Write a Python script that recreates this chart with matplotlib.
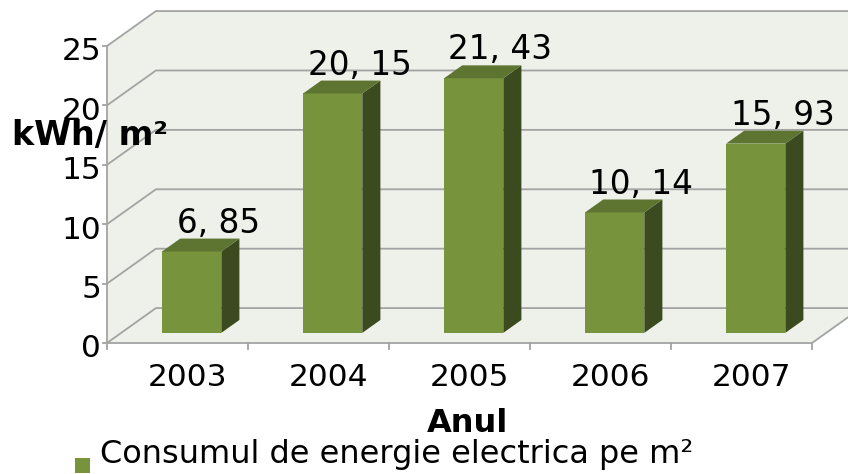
import numpy as np
import matplotlib
matplotlib.use("Agg")
import matplotlib.pyplot as plt
from matplotlib.patches import Polygon

years = ["2003", "2004", "2005", "2006", "2007"]
values = [6.85, 20.15, 21.43, 10.14, 15.93]
labels = ["6, 85", "20, 15", "21, 43", "10, 14", "15, 93"]
y_ticks = [0, 5, 10, 15, 20, 25]

# oblique depth (full depth of the floor) in data units
DX, DY = 0.347, 2.94
BAR_D0, BAR_D1 = 0.29, 0.66
BAR_W = 0.42

wall = "#EEF1EA"
grid = "#A3A3A3"
front = "#77933C"
side = "#3C4A1F"
top = "#5E7431"

W, H = 848, 474
fig = plt.figure(figsize=(W / 100, H / 100), dpi=100)

xlim = (-0.05, 5.26)
ylim = (-0.2, 28.4)
px_x = 141.0
px_y = 11.88
left = 107 - (0 - xlim[0]) * px_x
bottom_px = 343 + (0 - ylim[0]) * px_y
ax = fig.add_axes([left / W, (H - bottom_px) / H,
                   (xlim[1] - xlim[0]) * px_x / W,
                   (ylim[1] - ylim[0]) * px_y / H])
ax.set_xlim(*xlim)
ax.set_ylim(*ylim)
ax.axis("off")

ymax = y_ticks[-1]
n = len(years)

# walls and floor
ax.add_patch(Polygon([(DX, DY), (n + DX, DY), (n + DX, ymax + DY), (DX, ymax + DY)],
                     closed=True, fc=wall, ec="none", zorder=0))
ax.add_patch(Polygon([(0, 0), (DX, DY), (DX, ymax + DY), (0, ymax)],
                     closed=True, fc=wall, ec="none", zorder=0))
ax.add_patch(Polygon([(0, 0), (n, 0), (n + DX, DY), (DX, DY)],
                     closed=True, fc=wall, ec="none", zorder=0))

# gridlines
for v in y_ticks:
    ax.plot([0, DX, n + DX], [v, v + DY, v + DY], color=grid, lw=1.3, zorder=1)
    ax.plot([-0.03, 0], [v, v], color=grid, lw=1.3, zorder=1, clip_on=False)
    ax.text(-0.04, v - 0.5, str(v), ha="right", va="center", fontsize=22.5)
ax.plot([0, 0], [0, ymax], color=grid, lw=1.3, zorder=1)
ax.plot([0, n, n + DX], [0, 0, DY], color=grid, lw=1.3, zorder=1)
for i in range(n + 1):
    ax.plot([i, i], [0, -0.5], color=grid, lw=1.3, zorder=1, clip_on=False)

# bars
centers = np.arange(n) + 0.5 + BAR_D0 * DX
base = BAR_D0 * DY
ddx = (BAR_D1 - BAR_D0) * DX
ddy = (BAR_D1 - BAR_D0) * DY
ax.bar(centers, values, bottom=base, width=BAR_W, color=front, zorder=3)
for c, v, lab in zip(centers, values, labels):
    x0, x1 = c - BAR_W / 2, c + BAR_W / 2
    yt = base + v
    ax.add_patch(Polygon([(x1, base), (x1 + ddx, base + ddy), (x1 + ddx, yt + ddy), (x1, yt)],
                         closed=True, fc=side, ec="none", zorder=3))
    ax.add_patch(Polygon([(x0, yt), (x1, yt), (x1 + ddx, yt + ddy), (x0 + ddx, yt + ddy)],
                         closed=True, fc=top, ec="none", zorder=3))
    ax.text(c + 0.19, yt + ddy + 0.5, lab, ha="center", va="baseline", fontsize=23.5, zorder=4)

# category labels
for i, yr in enumerate(years):
    ax.text(i + 0.57, -2.9, yr, ha="center", va="center", fontsize=22.5, clip_on=False)

fig.text(12 / W, 1 - 135 / H, "kWh/ m²", ha="left", va="center",
         fontsize=24, fontweight="bold")
fig.text(468 / W, 1 - 423 / H, "Anul", ha="center", va="center",
         fontsize=23, fontweight="bold")

fig.patches.append(plt.Rectangle((75 / W, 1 - 473 / H), 15 / W, 15 / H,
                                 transform=fig.transFigure, fc=front, ec="none"))
fig.text(100 / W, 1 - 455 / H, "Consumul de energie electrica pe m²", ha="left",
         va="center", fontsize=23)

fig.savefig("out.png", dpi=100)
